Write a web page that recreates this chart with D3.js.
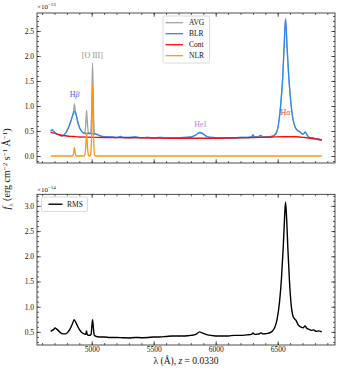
<!DOCTYPE html>
<html><head><meta charset="utf-8">
<script src="https://cdn.jsdelivr.net/npm/d3@7"></script>
<style>
body{margin:0;background:#fff}
text{font-family:"Liberation Serif","DejaVu Serif",serif;fill:#111}
</style>
</head><body>
<svg id="c" width="340" height="373"></svg>
<script>
// ---------- DATA (top panel, units of 1e-13) ----------
const blrWave = [4669,4680,4695,4720,4760,4790,4815,4835,4850,4862,4875,4890,4905,4925,4945,4970,5000,5030,5055,5080,5120,5160,5200,5230,5260,5300,5350,5400,5450,5500,5550,5600,5650,5700,5750,5800,5840,5870,5900,5930,5970,6020,6080,6150,6200,6260,6290,6300,6312,6340,6363,6380,6420,6450,6475,6495,6510,6525,6540,6552,6563,6575,6590,6605,6620,6640,6660,6680,6700,6712,6722,6732,6750,6780,6820,6855];
const blrFlux = [0.50,0.52,0.49,0.44,0.40,0.46,0.58,0.72,0.84,0.89,0.82,0.66,0.55,0.48,0.45,0.45,0.45,0.44,0.42,0.39,0.38,0.38,0.37,0.39,0.37,0.37,0.38,0.365,0.37,0.36,0.37,0.36,0.36,0.365,0.37,0.38,0.42,0.47,0.44,0.39,0.37,0.36,0.36,0.36,0.37,0.37,0.38,0.42,0.38,0.38,0.41,0.38,0.38,0.39,0.42,0.50,0.70,1.05,1.55,2.20,2.74,2.20,1.55,1.10,0.78,0.58,0.51,0.48,0.44,0.45,0.48,0.44,0.38,0.36,0.34,0.32];

const avgWave = [4669,4680,4695,4720,4760,4790,4815,4835,4850,4855,4861,4867,4875,4890,4905,4925,4940,4945,4952,4959,4966,4973,4985,4990,4998,5007,5016,5024,5035,5055,5080,5120,5160,5200,5230,5260,5300,5350,5400,5450,5500,5550,5600,5650,5700,5750,5800,5840,5870,5900,5930,5970,6020,6080,6150,6200,6260,6290,6300,6312,6340,6363,6380,6420,6450,6475,6495,6510,6525,6540,6552,6563,6575,6590,6605,6620,6640,6660,6680,6700,6712,6722,6732,6750,6780,6820,6855];
const avgFlux = [0.50,0.52,0.49,0.44,0.40,0.46,0.58,0.72,0.85,0.92,1.04,0.92,0.83,0.66,0.55,0.48,0.45,0.47,0.63,0.91,0.63,0.47,0.45,0.46,0.75,1.86,0.75,0.45,0.44,0.42,0.39,0.38,0.38,0.37,0.39,0.37,0.37,0.38,0.365,0.37,0.36,0.37,0.36,0.36,0.365,0.37,0.38,0.42,0.47,0.44,0.39,0.37,0.36,0.36,0.36,0.37,0.37,0.38,0.42,0.38,0.38,0.41,0.38,0.38,0.39,0.42,0.50,0.70,1.05,1.55,2.20,2.74,2.20,1.55,1.10,0.78,0.58,0.51,0.48,0.44,0.45,0.48,0.44,0.38,0.36,0.34,0.32];

const contWave = [4669,4700,4750,4800,4850,4900,5000,5100,5300,5500,5700,5900,6100,6300,6450,6550,6650,6720,6780,6855];
const contFlux = [0.48,0.455,0.42,0.40,0.39,0.38,0.375,0.37,0.365,0.36,0.355,0.355,0.36,0.37,0.38,0.385,0.385,0.37,0.35,0.32];

const nlrWave = [4669,4840,4850,4855,4861,4867,4872,4882,4935,4945,4952,4959,4966,4973,4985,4990,4998,5007,5016,5024,5035,6855];
const nlrFlux = [0,0,0.01,0.07,0.17,0.07,0.01,0,0,0.02,0.18,0.46,0.18,0.02,0,0.01,0.30,1.42,0.30,0.01,0,0];

// ---------- DATA (bottom panel, units of 1e-14) ----------
const rmsWave = [4669,4680,4695,4705,4715,4730,4750,4770,4790,4810,4830,4845,4858,4870,4885,4900,4920,4940,4952,4958,4964,4980,4995,5001,5007,5013,5020,5035,5060,5100,5150,5200,5250,5300,5350,5400,5450,5500,5550,5600,5650,5700,5750,5800,5840,5870,5890,5920,5960,6000,6050,6100,6150,6200,6250,6290,6300,6315,6350,6365,6380,6420,6450,6475,6495,6515,6530,6545,6555,6563,6572,6582,6595,6608,6625,6650,6665,6685,6705,6720,6735,6755,6775,6790,6810,6830,6855];
const rmsFlux = [0.51,0.53,0.55,0.58,0.56,0.53,0.48,0.46,0.46,0.50,0.58,0.66,0.74,0.70,0.62,0.55,0.49,0.46,0.45,0.52,0.45,0.43,0.45,0.60,0.74,0.60,0.44,0.41,0.40,0.40,0.39,0.39,0.385,0.38,0.39,0.385,0.39,0.40,0.40,0.41,0.42,0.42,0.42,0.43,0.45,0.50,0.48,0.45,0.43,0.42,0.42,0.42,0.43,0.43,0.44,0.45,0.48,0.45,0.46,0.48,0.46,0.47,0.50,0.58,0.75,1.10,1.55,2.20,2.75,3.08,2.75,2.15,1.50,1.05,0.80,0.72,0.64,0.60,0.58,0.62,0.57,0.55,0.53,0.54,0.51,0.52,0.50];

const xTickVals = [5000,5500,6000,6500];
const topYTicks = [0.0,0.5,1.0,1.5,2.0,2.5];
const botYTicks = [0.5,1.0,1.5,2.0,2.5,3.0];
const topLegend = ["AVG","BLR","Cont","NLR"];
const lineLabels = [
  {t:"[O III]", w:5005, v:1.97, c:"#8c8c8c"},
  {t:"Hβ", w:4862, v:1.19, c:"#5656ee"},
  {t:"HeI", w:5876, v:0.59, c:"#ae86e2"},
  {t:"Hα", w:6563, v:0.83, c:"#e4404c"}
];

// ---------- LAYOUT ----------
const svg = d3.select("#c");
const L = 37, R = 335;
const x = d3.scaleLinear().domain([4559, 6962]).range([L, R]);
const yTop = d3.scaleLinear().domain([-0.14, 2.86]).range([163, 13]);
const yBot = d3.scaleLinear().domain([0.24, 3.23]).range([345, 194.3]);

const colors = {AVG:"#a3a3a3", BLR:"#2a8cf0", Cont:"#f01010", NLR:"#ff950e"};

function frame(y, showX, yTicks){
  const [b, t] = y.range();
  const g = svg.append("g");
  const minorX = d3.range(4600, 6962, 100);
  const yd = y.domain();
  const minorY = d3.range(Math.ceil(yd[0]*10)/10, yd[1], 0.1).map(v=>+v.toFixed(2));
  const styl = sel => { sel.select(".domain").remove(); sel.selectAll("line").attr("stroke","#222").attr("stroke-width",0.7); sel.selectAll("text").attr("font-size",7.5).attr("font-family","Liberation Serif, serif").attr("fill","#222"); };
  g.append("g").attr("transform",`translate(0,${b})`).call(d3.axisBottom(x).tickValues(minorX).tickSize(-2).tickFormat("")).call(styl);
  g.append("g").attr("transform",`translate(0,${b})`).call(d3.axisBottom(x).tickValues(xTickVals).tickSize(-3.8).tickPadding(2).tickFormat(showX? d3.format("d") : "")).call(styl);
  g.append("g").attr("transform",`translate(0,${t})`).call(d3.axisTop(x).tickValues(minorX).tickSize(-2).tickFormat("")).call(styl);
  g.append("g").attr("transform",`translate(0,${t})`).call(d3.axisTop(x).tickValues(xTickVals).tickSize(-3.8).tickFormat("")).call(styl);
  g.append("g").attr("transform",`translate(${L},0)`).call(d3.axisLeft(y).tickValues(minorY).tickSize(-2).tickFormat("")).call(styl);
  g.append("g").attr("transform",`translate(${L},0)`).call(d3.axisLeft(y).tickValues(yTicks).tickSize(-3.8).tickPadding(3).tickFormat(d3.format(".1f"))).call(styl);
  g.append("g").attr("transform",`translate(${R},0)`).call(d3.axisRight(y).tickValues(minorY).tickSize(-2).tickFormat("")).call(styl);
  g.append("g").attr("transform",`translate(${R},0)`).call(d3.axisRight(y).tickValues(yTicks).tickSize(-3.8).tickFormat("")).call(styl);
  g.append("rect").attr("x",L).attr("y",t).attr("width",R-L).attr("height",b-t)
    .attr("fill","none").attr("stroke","#222").attr("stroke-width",0.8);
  return g;
}

function series(y, wave, flux, color, width){
  const line = d3.line().x(d=>x(d[0])).y(d=>y(d[1])).curve(d3.curveMonotoneX);
  svg.append("path").datum(d3.zip(wave, flux)).attr("d", line)
    .attr("fill","none").attr("stroke",color).attr("stroke-width",width).attr("stroke-linejoin","round");
}

// top panel
series(yTop, avgWave, avgFlux, colors.AVG, 1.3);
series(yTop, blrWave, blrFlux, colors.BLR, 1.3);
series(yTop, contWave, contFlux, colors.Cont, 1.3);
series(yTop, nlrWave, nlrFlux, colors.NLR, 1.3);
frame(yTop, false, topYTicks);

lineLabels.forEach(d=>{
  const tx = svg.append("text").attr("x", x(d.w)).attr("y", yTop(d.v)).attr("text-anchor","middle")
    .attr("font-size",8).style("fill", d.c);
  if (d.t.length === 2 && d.t[0]==="H") {
    tx.append("tspan").text("H");
    tx.append("tspan").attr("font-style","italic").text(d.t[1]);
  } else tx.text(d.t);
});

// top legend
const lg = svg.append("g");
lg.append("rect").attr("x",163).attr("y",16).attr("width",46.5).attr("height",47).attr("rx",1.5)
  .attr("fill","#fff").attr("fill-opacity",0.85).attr("stroke","#d0d0d0").attr("stroke-width",0.8);
topLegend.forEach((k,i)=>{
  const yy = 22.7 + i*11;
  lg.append("line").attr("x1",165.5).attr("x2",183).attr("y1",yy).attr("y2",yy).attr("stroke",colors[k]).attr("stroke-width",1.3);
  lg.append("text").attr("x",189).attr("y",yy+2.7).attr("font-size",7.5).text(k);
});

// bottom panel
series(yBot, rmsWave, rmsFlux, "#000", 1.4);
frame(yBot, true, botYTicks);

const lb = svg.append("g");
lb.append("rect").attr("x",41.5).attr("y",197).attr("width",46).attr("height",14.5).attr("rx",1.5)
  .attr("fill","#fff").attr("fill-opacity",0.85).attr("stroke","#d0d0d0").attr("stroke-width",0.8);
lb.append("line").attr("x1",48.5).attr("x2",62.5).attr("y1",204.2).attr("y2",204.2).attr("stroke","#000").attr("stroke-width",1.4);
lb.append("text").attr("x",67).attr("y",206.9).attr("font-size",7.5).text("RMS");

// exponent labels
function expo(xx, yy, p){
  const t = svg.append("text").attr("x",xx).attr("y",yy).attr("font-size",7);
  t.append("tspan").text("×10");
  t.append("tspan").attr("dy",-3).attr("font-size",5).text(p);
}
expo(37, 9, "−13");
expo(37, 191.5, "−14");

// x label
const xl = svg.append("text").attr("x",(L+R)/2).attr("y",364).attr("text-anchor","middle").attr("font-size",9.5);
xl.append("tspan").text("λ (Å), ");
xl.append("tspan").attr("font-style","italic").text("z");
xl.append("tspan").text(" = 0.0330");

// y label
const yl = svg.append("text").attr("transform","translate(10,169) rotate(-90)").attr("text-anchor","middle").attr("font-size",10);
yl.append("tspan").attr("font-style","italic").text("f");
yl.append("tspan").attr("dy",2.5).attr("font-size",7).text("λ");
yl.append("tspan").attr("dy",-2.5).text(" (erg cm");
yl.append("tspan").attr("dy",-3.5).attr("font-size",7).text("−2");
yl.append("tspan").attr("dy",3.5).text(" s");
yl.append("tspan").attr("dy",-3.5).attr("font-size",7).text("−1");
yl.append("tspan").attr("dy",3.5).text(" Å");
yl.append("tspan").attr("dy",-3.5).attr("font-size",7).text("−1");
yl.append("tspan").attr("dy",3.5).text(")");
</script>
</body></html>
